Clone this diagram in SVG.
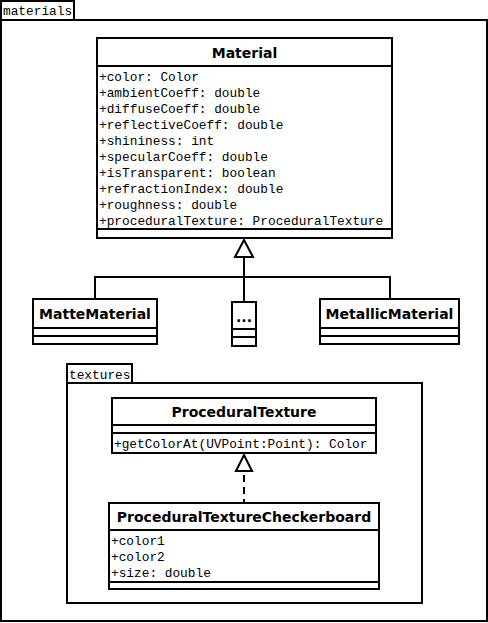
<svg xmlns="http://www.w3.org/2000/svg" width="488" height="623" viewBox="0 0 488 623">
<style>
.box{fill:#fff;stroke:#000;stroke-width:2}
.ln{stroke:#000;stroke-width:2;fill:none}
.title{font-family:"DejaVu Sans",sans-serif;font-weight:bold;font-size:14px;text-anchor:middle;fill:#000}
.mono{font-family:"Liberation Mono","Courier New",monospace;font-size:12.8px;fill:#000}
.tri{fill:#fff;stroke:#000;stroke-width:2}
</style>
<rect width="488" height="623" fill="#fff"/>
<g id="pkg-materials">
<rect class="box" x="1" y="1" width="73" height="19"/>
<rect class="box" x="1" y="20" width="486" height="601"/>
<text class="mono" x="3" y="15">materials</text>
</g>
<g id="pkg-textures">
<rect class="box" x="67" y="364" width="65" height="19"/>
<rect class="box" x="67" y="383" width="355" height="220"/>
<text class="mono" x="69" y="379">textures</text>
</g>
<g id="connectors">
<polyline class="ln" points="95,299 95,277 390,277 390,299"/>
<line class="ln" x1="244" y1="257" x2="244" y2="302"/>
<polygon class="tri" points="244,240 235,257 253,257"/>
<line class="ln" x1="244" y1="472" x2="244" y2="503" stroke-dasharray="7,5" stroke-dashoffset="-3"/>
<polygon class="tri" points="244,455 236,471 252,471"/>
</g>
<g id="Material">
<rect class="box" x="97" y="38" width="295" height="200"/>
<line class="ln" x1="97" y1="66" x2="392" y2="66"/>
<line class="ln" x1="97" y1="229" x2="392" y2="229"/>
<text class="title" x="244.5" y="58">Material</text>
<text class="mono" x="99" y="81">+color: Color</text>
<text class="mono" x="99" y="97">+ambientCoeff: double</text>
<text class="mono" x="99" y="113">+diffuseCoeff: double</text>
<text class="mono" x="99" y="129">+reflectiveCoeff: double</text>
<text class="mono" x="99" y="145">+shininess: int</text>
<text class="mono" x="99" y="161">+specularCoeff: double</text>
<text class="mono" x="99" y="177">+isTransparent: boolean</text>
<text class="mono" x="99" y="193">+refractionIndex: double</text>
<text class="mono" x="99" y="209">+roughness: double</text>
<text class="mono" x="99" y="225">+proceduralTexture: ProceduralTexture</text>
</g>
<g id="MatteMaterial">
<rect class="box" x="33" y="299" width="124" height="45"/>
<line class="ln" x1="33" y1="328" x2="157" y2="328"/>
<line class="ln" x1="33" y1="336" x2="157" y2="336"/>
<text class="title" x="95" y="319">MatteMaterial</text>
</g>
<g id="Ellipsis">
<rect class="box" x="232" y="302" width="24" height="44"/>
<line class="ln" x1="232" y1="329" x2="256" y2="329"/>
<line class="ln" x1="232" y1="337" x2="256" y2="337"/>
<text class="title" x="244" y="322">...</text>
</g>
<g id="MetallicMaterial">
<rect class="box" x="320" y="299" width="139" height="45"/>
<line class="ln" x1="320" y1="328" x2="459" y2="328"/>
<line class="ln" x1="320" y1="336" x2="459" y2="336"/>
<text class="title" x="389.5" y="319">MetallicMaterial</text>
</g>
<g id="ProceduralTexture">
<rect class="box" x="112" y="398" width="264" height="55"/>
<line class="ln" x1="112" y1="425" x2="376" y2="425"/>
<line class="ln" x1="112" y1="433" x2="376" y2="433"/>
<text class="title" x="244" y="417">ProceduralTexture</text>
<text class="mono" x="114" y="448">+getColorAt(UVPoint:Point): Color</text>
</g>
<g id="ProceduralTextureCheckerboard">
<rect class="box" x="109" y="503" width="270" height="86"/>
<line class="ln" x1="109" y1="530" x2="379" y2="530"/>
<line class="ln" x1="109" y1="582" x2="379" y2="582"/>
<text class="title" x="244" y="522">ProceduralTextureCheckerboard</text>
<text class="mono" x="111" y="545">+color1</text>
<text class="mono" x="111" y="561">+color2</text>
<text class="mono" x="111" y="577">+size: double</text>
</g>
</svg>
